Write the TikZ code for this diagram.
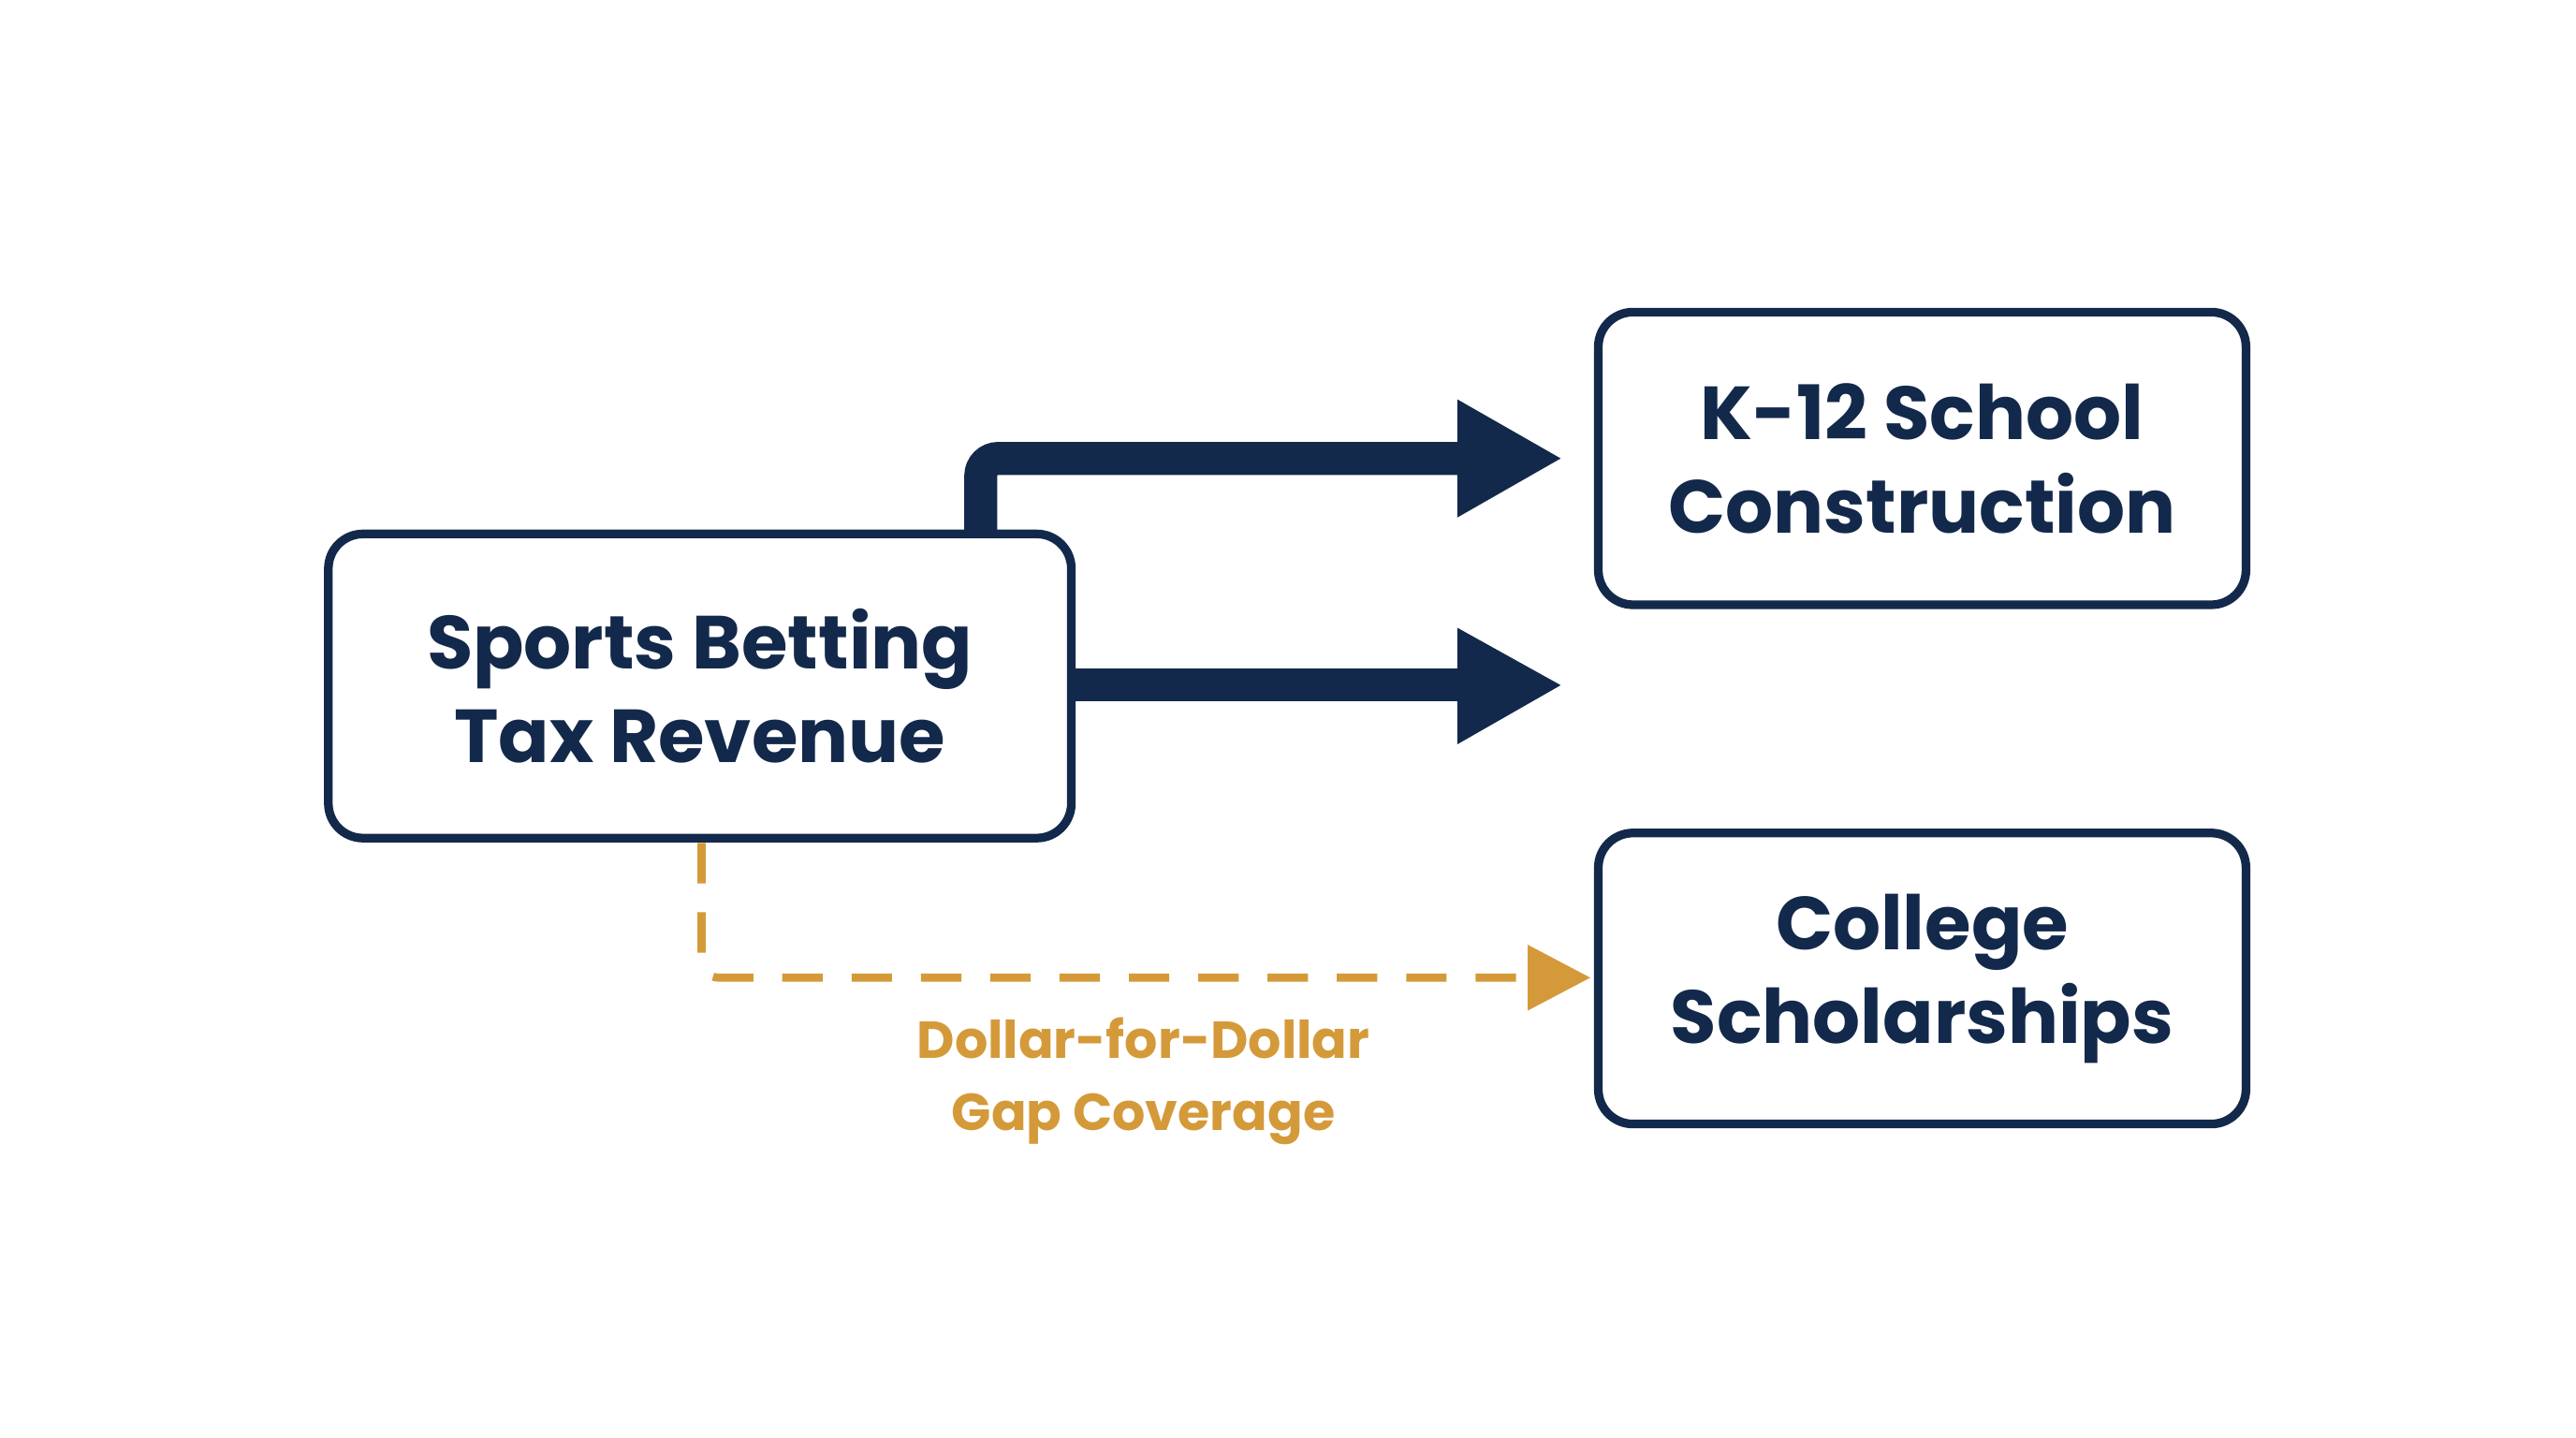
\documentclass[tikz,border=0pt]{standalone}
\usepackage{fontspec}
\setmainfont{Poppins}
\definecolor{navy}{HTML}{13294B}
\definecolor{gold}{HTML}{D49A3A}
\begin{document}
\begin{tikzpicture}[x=0.01cm,y=-0.01cm,
 box/.style={draw=navy,line width=1.5pt,rounded corners=6pt,fill=white,text=navy,font=\fontsize{13}{16.2}\selectfont\bfseries,align=center,inner sep=0pt},
 shaft/.style={navy,line width=5.7pt},
 head/.style={fill=navy}]
\useasboundingbox (0,0) rectangle (1568,875);
\fill[white] (0,0) rectangle (1568,875);
% arrows
\coordinate (t0) at (597,330);
\coordinate (t1) at (597,279);
\coordinate (t2) at (892,279);
\draw[shaft,rounded corners=3pt] (t0) -- (t1) -- (t2);
\fill[head] (887,243) -- (950,279) -- (887,315) -- cycle;
\coordinate (m0) at (640,417);
\coordinate (m1) at (892,417);
\draw[shaft] (m0) -- (m1);
\fill[head] (887,382) -- (950,417) -- (887,453) -- cycle;
\node[box,minimum width=4.52cm,minimum height=1.85cm] (src) at (426,417.5) {Sports Betting\\Tax Revenue};
\node[box,minimum width=3.94cm,minimum height=1.78cm] (k12) at (1170,279) {K-12 School\\Construction};
\node[box,minimum width=3.94cm,minimum height=1.77cm] (col) at (1170,595.5) {College\\Scholarships};
% dashed
\coordinate (d0) at (427,513);
\coordinate (d1) at (427,595);
\coordinate (d2) at (932,595);
\draw[gold,line width=1.4pt,dash pattern=on 7pt off 5pt,rounded corners=3pt] (d0) -- (d1) -- (d2);
\fill[gold] (930,575) -- (968,595) -- (930,615) -- cycle;
\node[text=gold,font=\fontsize{9}{12.5}\selectfont\bfseries,align=center] (lbl) at (696,658) {Dollar-for-Dollar\\Gap Coverage};
\end{tikzpicture}
\end{document}
